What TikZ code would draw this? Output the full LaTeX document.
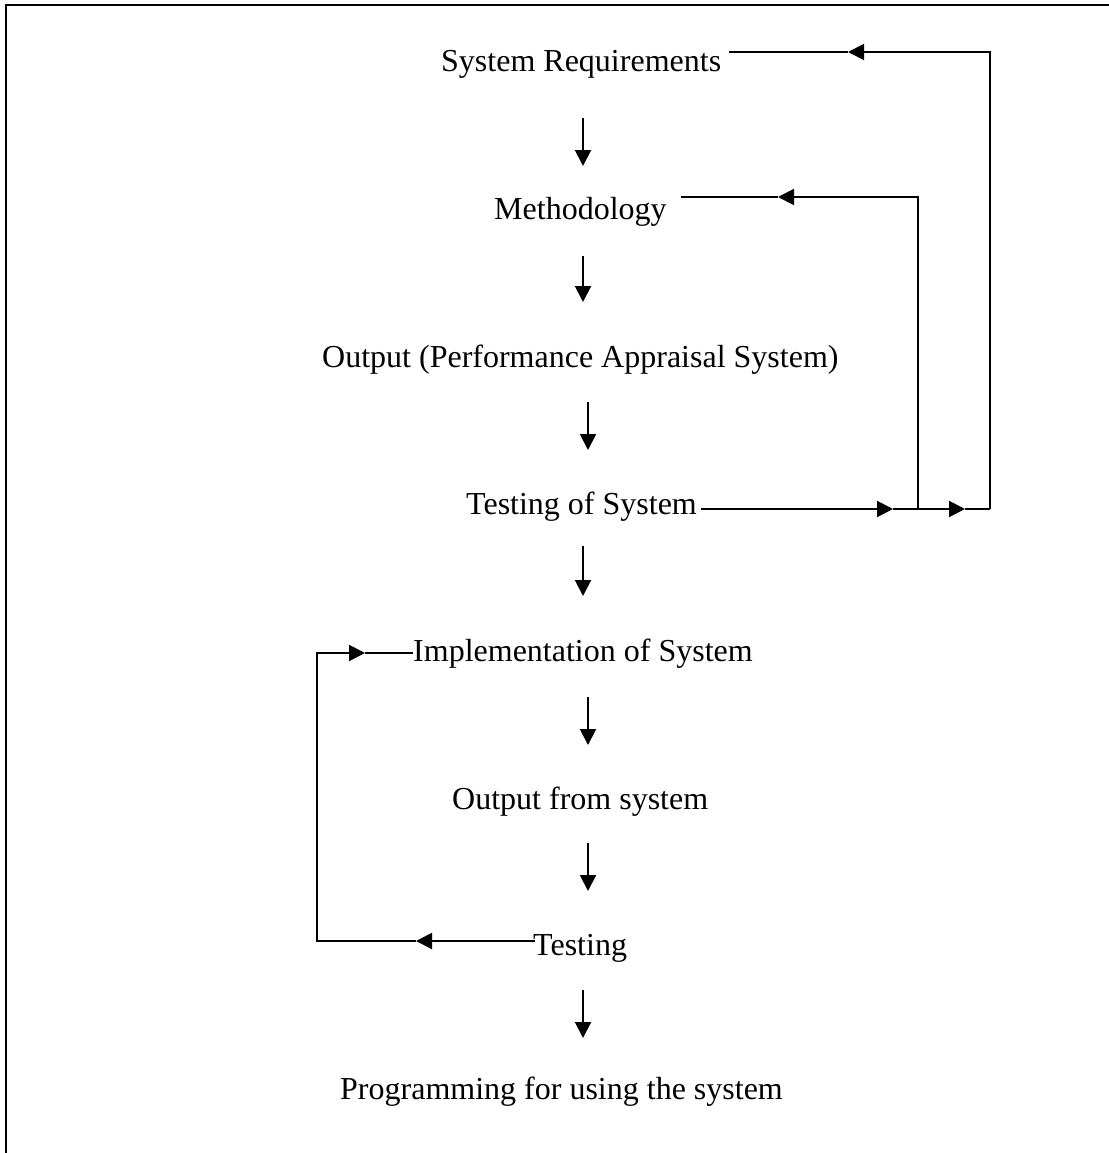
\documentclass[tikz,border=0pt]{standalone}
\usepackage{fontspec}
\setmainfont{Liberation Serif}
\usetikzlibrary{arrows.meta,calc}
\begin{document}
\begin{tikzpicture}[x=1pt,y=-1pt,
  lbl/.style={font=\fontsize{32}{38}\selectfont, inner sep=0pt, anchor=base west},
  conn/.style={line width=2pt},
  tipped/.style={conn,-{Triangle[length=16pt,width=16pt]}}]
\useasboundingbox (0,0) rectangle (1108,1153);
\draw[line width=2.6pt] (6,1160) -- (6,5) -- (1115,5);

% nodes
\node[lbl] (sysreq) at (441,72)  {System Requirements};
\node[lbl] (meth)   at (494,219) {Methodology};
\node[lbl] (outpas) at (322,367) {Output (Performance Appraisal System)};
\node[lbl] (tsys)   at (466,514) {Testing of System};
\node[lbl] (impl)   at (413,661) {Implementation of System};
\node[lbl] (outsys) at (452,809) {Output from system};
\node[lbl] (test)   at (533,955) {Testing};
\node[lbl] (prog)   at (340,1099) {Programming for using the system};

% vertical flow arrows
\draw[tipped] (583,118) -- (583,166);
\draw[tipped] (583,256) -- (583,302);
\draw[tipped] (588,402) -- (588,450);
\draw[tipped] (583,546) -- (583,596);
\draw[tipped] (588,697) -- (588,745);
\draw[tipped] (588,843) -- (588,891);
\draw[tipped] (583,990) -- (583,1038);

% feedback loop from Testing of System
\coordinate (ts0) at ($(tsys.base east)+(4,-5)$);
\coordinate (ja) at (918,509);
\coordinate (jb) at (990,509);
\coordinate (tipA) at (893,509);
\coordinate (tipB) at (965,509);
\draw[tipped] (ts0) -- (tipA);
\draw[conn] (tipA) -- (ja);
\draw[tipped] (ja) -- (tipB);
\draw[conn] (tipB) -- (jb);

\coordinate (sr0) at ($(sysreq.base east)+(8,-20)$);
\coordinate (tipC) at (848,52);
\draw[tipped] (jb) |- (tipC);
\draw[conn] (tipC) -- (sr0);

\coordinate (me0) at ($(meth.base east)+(14,-22)$);
\coordinate (tipD) at (778,197);
\draw[tipped] (ja) |- (tipD);
\draw[conn] (tipD) -- (me0);

% lower feedback loop
\coordinate (te0) at ($(test.base west)+(2,-14)$);
\coordinate (im0) at ($(impl.base west)+(0,-8)$);
\coordinate (tipE) at (416,941);
\coordinate (tipF) at (365,653);
\draw[tipped] (te0) -- (tipE);
\draw[tipped] (tipE) -| (317,653) -- (tipF);
\draw[conn] (tipF) -- (im0);
\end{tikzpicture}
\end{document}
